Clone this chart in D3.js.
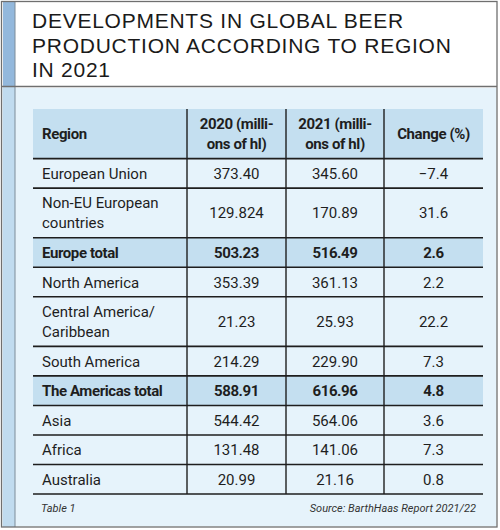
<!DOCTYPE html>
<html>
<head>
<meta charset="utf-8">
<script src="https://cdn.jsdelivr.net/npm/d3@7"></script>
<style>
  html, body { margin: 0; padding: 0; background: #ffffff; }
  svg { display: block; }
</style>
</head>
<body>
<script>
// ---------- data ----------
const titleLines = ["DEVELOPMENTS IN GLOBAL BEER", "PRODUCTION ACCORDING TO REGION", "IN 2021"];
const headers = [["Region"], ["2020 (milli-", "ons of hl)"], ["2021 (milli-", "ons of hl)"], ["Change (%)"]];
const regions = [["European Union"], ["Non-EU European", "countries"], ["Europe total"], ["North America"],
  ["Central America/", "Caribbean"], ["South America"], ["The Americas total"], ["Asia"], ["Africa"], ["Australia"]];
const values2020 = ["373.40", "129.824", "503.23", "353.39", "21.23", "214.29", "588.91", "544.42", "131.48", "20.99"];
const values2021 = ["345.60", "170.89", "516.49", "361.13", "25.93", "229.90", "616.96", "564.06", "141.06", "21.16"];
const changes = ["\u22127.4", "31.6", "2.6", "2.2", "22.2", "7.3", "4.8", "3.6", "7.3", "0.8"];
const isTotal = [false, false, true, false, false, false, true, false, false, false];
const noteLeft = "Table 1";
const noteRight = "Source: BarthHaas Report 2021/22";

// ---------- layout ----------
const W = 500, H = 530;
const FONT = "Roboto, 'Liberation Sans', sans-serif";
const TITLE_FONT = "'Liberation Sans', Arial, sans-serif";
const panelBg = "#e6f3fb", fillDark = "#c4dff0", stripTop = "#93b8dc", stripBottom = "#c0dbef";
const ink = "#1e1e1e";

const svg = d3.select("body").append("svg").attr("width", W).attr("height", H);

// frame
svg.append("rect").attr("x", 0).attr("y", 0).attr("width", W).attr("height", H).attr("fill", "#fff");
svg.append("rect").attr("x", 1.5).attr("y", 88).attr("width", 495).attr("height", 438.5).attr("fill", panelBg);
svg.append("rect").attr("x", 3).attr("y", 1.5).attr("width", 12).attr("height", 85).attr("fill", stripTop);
svg.append("rect").attr("x", 3).attr("y", 87).attr("width", 12).attr("height", 440).attr("fill", stripBottom);
svg.append("line").attr("x1", 15).attr("x2", 15).attr("y1", 1).attr("y2", 527).attr("stroke", "#7d8c99").attr("stroke-width", 1);
svg.append("line").attr("x1", 1.5).attr("x2", 497).attr("y1", 86.5).attr("y2", 86.5).attr("stroke", "#6f6f6f").attr("stroke-width", 1.3);
svg.append("rect").attr("x", 1.5).attr("y", 1.5).attr("width", 495.5).attr("height", 525.5)
  .attr("fill", "none").attr("stroke", "#6f6f6f").attr("stroke-width", 1.3);

// title
svg.append("g").selectAll("text").data(titleLines).join("text")
  .attr("x", 32).attr("y", (d, i) => 28 + i * 24.7)
  .attr("font-family", TITLE_FONT).attr("font-size", 21).attr("letter-spacing", 0.75).attr("fill", "#1a1a1a")
  .text(d => d);

// ---------- table ----------
const colEdges = [33, 187, 286, 384, 483];
const colX = d3.scaleOrdinal().domain([0, 1, 2, 3]).range([0, 1, 2, 3].map(i => colEdges[i]));
const colW = i => colEdges[i + 1] - colEdges[i];

const rowUnits = [1.68].concat(regions.map(r => r.length > 1 ? 1.68 : 1));
const cum = [0];
rowUnits.forEach(u => cum.push(cum[cum.length - 1] + u));
const y = d3.scaleLinear().domain([0, cum[cum.length - 1]]).range([109, 494]);

const tbl = svg.append("g");

// fills
tbl.selectAll("rect.fill").data(rowUnits).join("rect")
  .attr("class", "fill")
  .attr("x", colEdges[0]).attr("width", colEdges[4] - colEdges[0])
  .attr("y", (d, i) => y(cum[i])).attr("height", (d, i) => y(cum[i + 1]) - y(cum[i]))
  .attr("fill", (d, i) => i === 0 || isTotal[i - 1] ? fillDark : "none");

// horizontal lines
tbl.selectAll("line.h").data(cum.slice(1)).join("line")
  .attr("class", "h")
  .attr("x1", colEdges[0]).attr("x2", colEdges[4])
  .attr("y1", d => y(d)).attr("y2", d => y(d))
  .attr("stroke", ink).attr("stroke-width", 1.6);

// vertical lines
tbl.selectAll("line.v").data(colEdges.slice(1, 4)).join("line")
  .attr("class", "v")
  .attr("x1", d => d).attr("x2", d => d)
  .attr("y1", 109).attr("y2", y(cum[cum.length - 1]))
  .attr("stroke", ink).attr("stroke-width", 1.4);

// cell text
function cell(lines, col, rowIdx, bold) {
  const top = y(cum[rowIdx]), bot = y(cum[rowIdx + 1]);
  const mid = (top + bot) / 2;
  const lh = 20;
  const x = col === 0 ? colX(0) + 9 : colX(col) + colW(col) / 2;
  const t = tbl.append("text")
    .attr("font-family", FONT).attr("font-size", 15)
    .attr("font-weight", bold ? "bold" : "normal")
    .attr("letter-spacing", bold ? -0.4 : 0)
    .attr("fill", ink)
    .attr("text-anchor", col === 0 ? "start" : "middle");
  lines.forEach((ln, k) => {
    t.append("tspan").attr("x", x)
      .attr("y", mid + (k - (lines.length - 1) / 2) * lh + 5.5)
      .text(ln);
  });
}

headers.forEach((h, c) => cell(h, c, 0, true));
regions.forEach((r, i) => {
  const b = isTotal[i];
  cell(r, 0, i + 1, b);
  cell([values2020[i]], 1, i + 1, b);
  cell([values2021[i]], 2, i + 1, b);
  cell([changes[i]], 3, i + 1, b);
});

// notes
svg.append("text").attr("x", 41).attr("y", 512)
  .attr("font-family", FONT).attr("font-size", 11).attr("font-style", "italic").attr("fill", "#333")
  .text(noteLeft);
svg.append("text").attr("x", 476).attr("y", 512).attr("text-anchor", "end")
  .attr("font-family", FONT).attr("font-size", 11).attr("font-style", "italic").attr("fill", "#333")
  .text(noteRight);
</script>
</body>
</html>
